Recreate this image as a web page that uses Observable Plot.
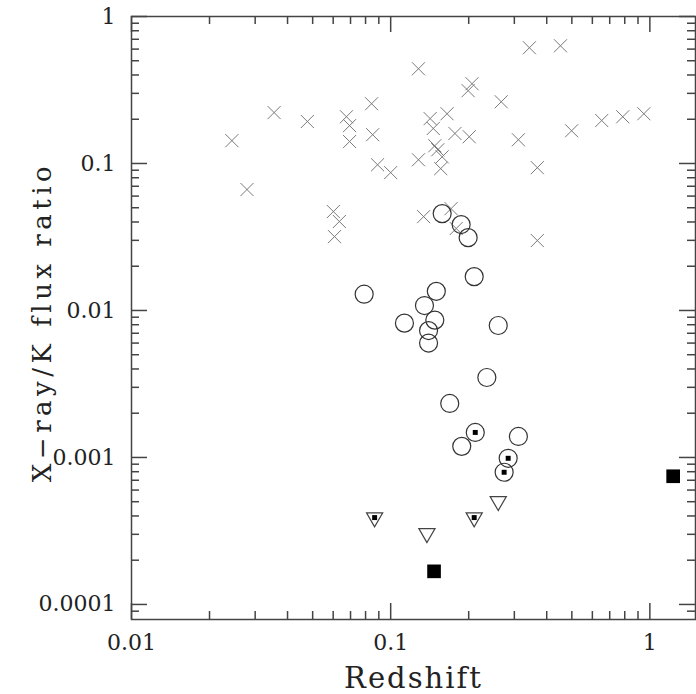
<!DOCTYPE html>
<html><head><meta charset="utf-8">
<script src="https://cdn.jsdelivr.net/npm/d3@7"></script>
<script src="https://cdn.jsdelivr.net/npm/@observablehq/plot@0.6"></script>
<style>
html,body{margin:0;padding:0;background:#fff;}
svg{display:block;}
</style></head><body><div id="chart"></div>
<script>
// Crosses (×)
const crossZ = [0.0244,0.0279,0.0355,0.0477,0.0675,0.0694,0.0694,0.0844,0.0852,0.089,0.100,0.0601,0.0634,0.0607,0.128,0.142,0.146,0.165,0.148,0.152,0.158,0.156,0.128,0.177,0.201,0.206,0.199,0.267,0.311,0.368,0.343,0.452,0.499,0.652,0.786,0.948,0.134,0.171,0.179,0.368];
const crossR = [0.143,0.0665,0.222,0.193,0.208,0.181,0.141,0.255,0.157,0.098,0.0867,0.0471,0.0403,0.0318,0.441,0.202,0.173,0.218,0.132,0.124,0.111,0.0923,0.106,0.160,0.152,0.349,0.313,0.263,0.145,0.0937,0.613,0.632,0.167,0.196,0.208,0.218,0.0435,0.0493,0.0361,0.0299];
// Open circles (with optional inner dot)
const circleZ = [0.079,0.113,0.135,0.14,0.14,0.148,0.15,0.158,0.187,0.199,0.21,0.26,0.235,0.169,0.188,0.212,0.311,0.284,0.274];
const circleR = [0.0129,0.0082,0.0108,0.0073,0.006,0.0086,0.0135,0.0456,0.0384,0.0313,0.017,0.0079,0.0035,0.00233,0.00119,0.00148,0.00139,0.000987,0.000793];
const circleDot = [0,0,0,0,0,0,0,0,0,0,0,0,0,0,0,1,0,1,1];
// Downward triangles (upper limits), optional inner dot
const triZ = [0.0867,0.21,0.138,0.26];
const triR = [0.00039,0.00039,0.000305,0.000504];
const triDot = [1,1,0,0];
// Filled squares
const sqZ = [0.147,1.23];
const sqR = [0.000168,0.000745];

// Axis ticks and labels
const xMajor = [0.01,0.1,1];
const xMajorLabels = ["0.01","0.1","1"];
const xMinor = [0.02,0.03,0.04,0.05,0.06,0.07,0.08,0.09,0.2,0.3,0.4,0.5,0.6,0.7,0.8,0.9];
const yMajor = [1,0.1,0.01,0.001,0.0001];
const yMajorLabels = ["1","0.1","0.01","0.001","0.0001"];
const yMinor = [0.9,0.8,0.7,0.6,0.5,0.4,0.3,0.2,
  0.09,0.08,0.07,0.06,0.05,0.04,0.03,0.02,
  0.009,0.008,0.007,0.006,0.005,0.004,0.003,0.002,
  0.0009,0.0008,0.0007,0.0006,0.0005,0.0004,0.0003,0.0002,
  0.00009];
const xTitle = "Redshift";
const yTitle = "X\u2212ray/K flux ratio";

const crosses = crossZ.map((z,i)=>({z, r: crossR[i]}));
const circles = circleZ.map((z,i)=>({z, r: circleR[i], dot: circleDot[i]}));
const tris = triZ.map((z,i)=>({z, r: triR[i], dot: triDot[i]}));
const squares = sqZ.map((z,i)=>({z, r: sqR[i]}));

const invTriangle = {
  draw(context, size) {
    const y = Math.sqrt(size / (3 * Math.sqrt(3)));
    context.moveTo(0, 2 * y);
    context.lineTo(-Math.sqrt(3) * y, -y);
    context.lineTo(Math.sqrt(3) * y, -y);
    context.closePath();
  }
};

const W = 696, H = 694, ML = 131, MR = 1, MT = 16, MB = 75;
const innerW = W - ML - MR, innerH = H - MT - MB;
const fmt = (vals, labels) => d => labels[vals.indexOf(d)] ?? "";
const axisColor = "#444";
const MAJ = 16, MIN = 8;
const tickStyle = {stroke: axisColor, strokeWidth: 1.5};
// inward ticks on all four sides
const ticksX = (vals, len) => [
  Plot.tickX(vals, {x: d => d, insetTop: innerH - len, ...tickStyle}),
  Plot.tickX(vals, {x: d => d, insetBottom: innerH - len, ...tickStyle})
];
const ticksY = (vals, len) => [
  Plot.tickY(vals, {y: d => d, insetRight: innerW - len, ...tickStyle}),
  Plot.tickY(vals, {y: d => d, insetLeft: innerW - len, ...tickStyle})
];

const chart = Plot.plot({
  width: W, height: H,
  marginLeft: ML, marginRight: MR, marginTop: MT, marginBottom: MB,
  style: {fontFamily: "'DejaVu Serif', serif", background: "#fff", color: "#222"},
  x: {type: "log", domain: [0.01, 1.5]},
  y: {type: "log", domain: [7.9e-5, 1]},
  marks: [
    Plot.frame({stroke: axisColor, strokeWidth: 1.5}),
    ...ticksX(xMajor, MAJ),
    ...ticksX(xMinor, MIN),
    ...ticksY(yMajor, MAJ),
    ...ticksY(yMinor, MIN),
    Plot.axisX({anchor: "bottom", ticks: xMajor, tickSize: 0, tickPadding: 15, tickFormat: fmt(xMajor, xMajorLabels), fontSize: 22, label: null, fill: "#222"}),
    Plot.axisY({anchor: "left", ticks: yMajor, tickSize: 0, tickPadding: 16, tickFormat: fmt(yMajor, yMajorLabels), fontSize: 22, label: null, fill: "#222"}),
    Plot.text([xTitle], {frameAnchor: "bottom", textAnchor: "middle", lineAnchor: "bottom", dy: 68, fontSize: 29, fill: "#222"}),
    Plot.text([yTitle], {frameAnchor: "left", textAnchor: "middle", lineAnchor: "middle", rotate: -90, dx: -89, dy: 4, fontSize: 26, fill: "#222"}),
    Plot.dot(crosses, {x: "z", y: "r", symbol: "times", r: 6, stroke: "#7a7a7a", strokeWidth: 1}),
    Plot.dot(circles, {x: "z", y: "r", symbol: "circle", r: 9, stroke: "#333", strokeWidth: 1.2, fill: "none"}),
    Plot.dot(circles.filter(d => d.dot), {x: "z", y: "r", symbol: "square", r: 2.8, fill: "#000", stroke: "none"}),
    Plot.dot(tris, {x: "z", y: "r", symbol: invTriangle, r: 6, stroke: "#444", strokeWidth: 1.2, fill: "none"}),
    Plot.dot(tris.filter(d => d.dot), {x: "z", y: "r", symbol: "square", r: 2.8, fill: "#000", stroke: "none"}),
    Plot.dot(squares, {x: "z", y: "r", symbol: "square", r: 7.7, fill: "#000", stroke: "none"})
  ]
});
// wide letter spacing like the original plotting font
d3.select(chart).selectAll("text").each(function() {
  const t = this.textContent;
  if (t === yTitle) this.setAttribute("letter-spacing", "4.5");
  if (t === xTitle) this.setAttribute("letter-spacing", "2");
});
document.getElementById("chart").appendChild(chart);
</script></body></html>
